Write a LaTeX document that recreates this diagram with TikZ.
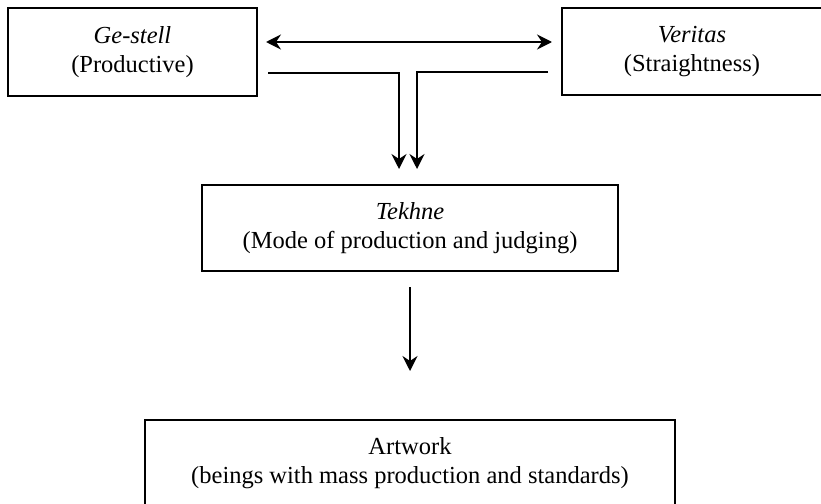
\documentclass[tikz,border=0pt]{standalone}
\usepackage{fontspec}
\setmainfont{Liberation Serif}
\usetikzlibrary{arrows.meta}
\begin{document}
\begin{tikzpicture}[x=1pt,y=-1pt,
  box/.style={draw, line width=1.8pt, align=center, inner sep=0pt,
    font=\fontsize{24.5}{28.5}\selectfont},
  tip/.style={Stealth[length=15pt,width=15pt,inset=5pt]},
  conn/.style={line width=2.3pt, -{Stealth[length=15pt,width=15pt,inset=5pt]}},
  dconn/.style={line width=2.3pt, {Stealth[length=15pt,width=15pt,inset=5pt]}-{Stealth[length=15pt,width=15pt,inset=5pt]}}]
\useasboundingbox (0,0) rectangle (821,503);
\node[box, minimum width=249pt, minimum height=88pt] (ge) at (132.5,52) {\textit{Ge-stell}\\(Productive)};
\node[box, minimum width=260pt, minimum height=87pt] (ver) at (692,51.5) {\textit{Veritas}\\(Straightness)};
\node[box, minimum width=416pt, minimum height=86pt] (tek) at (410,228) {\textit{Tekhne}\\(Mode of production and judging)};
\node[box, minimum width=530pt, minimum height=86pt] (art) at (410,463) {Artwork\\(beings with mass production and standards)};
\coordinate (dl) at (266,42);
\coordinate (dr) at (552,42);
\coordinate (ls) at (268,73);
\coordinate (lc) at (399,73);
\coordinate (le) at (399,169);
\coordinate (rs) at (548,72);
\coordinate (rc) at (417,72);
\coordinate (re) at (417,169);
\coordinate (ds) at (410,287);
\coordinate (de) at (410,371);
\draw[dconn] (dl) -- (dr);
\draw[conn] (ls) -- (lc) -- (le);
\draw[conn] (rs) -- (rc) -- (re);
\draw[conn] (ds) -- (de);
\end{tikzpicture}
\end{document}
